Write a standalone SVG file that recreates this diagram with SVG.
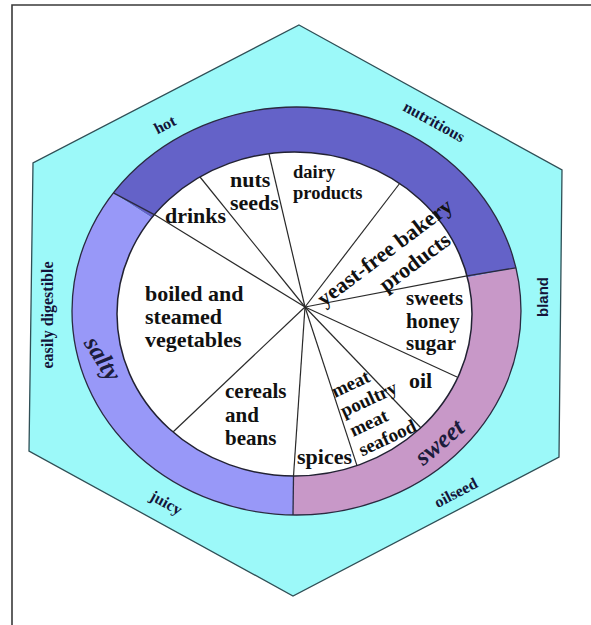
<svg xmlns="http://www.w3.org/2000/svg" width="591" height="625" viewBox="0 0 591 625">
  <style>
    .frame { fill: none; stroke: #3a3a3a; stroke-width: 1.6; }
    .hex { fill: #9cf9f9; stroke: #2f4f56; stroke-width: 1.3; }
    .edge { fill: none; stroke: #2a2a40; stroke-width: 1.3; }
    .spoke { stroke: #2a2a2a; stroke-width: 1.2; fill: none; }
    .core { fill: #ffffff; stroke: #222233; stroke-width: 1.5; }
    .in { font-family: "Liberation Serif", "Times New Roman", serif; font-weight: bold; font-size: 22px; fill: #111111; }
    .stack { font-size: 21px; }
    .lab { font-family: "Liberation Serif", "Times New Roman", serif; font-weight: bold; font-size: 16px; fill: #14143a; text-anchor: middle; }
    .sans { font-family: "Liberation Sans", Arial, sans-serif; font-weight: bold; font-size: 15px; fill: #14143a; text-anchor: middle; }
    .band { font-family: "Liberation Serif", "Times New Roman", serif; font-style: italic; font-weight: bold; font-size: 25px; fill: #1c1c3c; text-anchor: middle; }
  </style>

  <!-- page frame (top and left rules) -->
  <polyline class="frame" points="591,5 12,5 12,625"/>

  <!-- outer hexagon of qualities -->
  <g id="hexagon">
    <polygon class="hex" points="299,25 562,170 559,457 293,596 29,451 33,163"/>
    <text class="lab" transform="translate(165,125) rotate(-27.4)" y="5">hot</text>
    <text class="lab" x="308.5" y="131.5">sour</text>
    <text class="lab" transform="translate(434,122) rotate(28.9)" y="5">nutritious</text>
    <text class="lab" transform="translate(48,315) rotate(-90)" y="5">easily digestible</text>
    <text class="sans" transform="translate(543,297) rotate(-90)" y="5">bland</text>
    <text class="lab" transform="translate(166,503) rotate(28.8)" y="5">juicy</text>
    <text class="lab" transform="translate(456,493) rotate(-27.6)" y="5">oilseed</text>
  </g>

  <!-- taste ring -->
  <g id="ring">
    <path id="ring-sour" fill="#6462c8" d="M296.5,311 L113.4,192.9 A224.5,204 0 0 1 515.9,267.8 Z"/>
    <path id="ring-sweet" fill="#c898c8" d="M296.5,311 L515.9,267.8 A224.5,204 0 0 1 293,515 Z"/>
    <path id="ring-salty" fill="#9898f8" d="M296.5,311 L293,515 A224.5,204 0 0 1 113.4,192.9 Z"/>
    <ellipse class="edge" cx="296.5" cy="311" rx="224.5" ry="204"/>
    <line class="edge" x1="154.3" y1="214.6" x2="113.4" y2="192.9"/>
    <line class="edge" x1="467" y1="275.8" x2="515.9" y2="267.8"/>
    <line class="edge" x1="293.5" y1="476" x2="293" y2="515"/>
    <text class="band" transform="translate(101.7,359.3) rotate(58)" y="7">salty</text>
    <text class="band" transform="translate(440,443) rotate(-40)" y="7">sweet</text>
  </g>

  <!-- food disc -->
  <ellipse id="disc" class="core" cx="294.5" cy="314" rx="177.5" ry="162"/>

  <!-- dividing spokes -->
  <g id="connectors">
    <line class="spoke" x1="305" y1="307" x2="154.3" y2="214.6"/>
    <line class="spoke" x1="305" y1="307" x2="200" y2="177"/>
    <line class="spoke" x1="305" y1="307" x2="269" y2="154"/>
    <line class="spoke" x1="305" y1="307" x2="400" y2="183"/>
    <line class="spoke" x1="305" y1="307" x2="467" y2="275.8"/>
    <line class="spoke" x1="305" y1="307" x2="457" y2="377"/>
    <line class="spoke" x1="305" y1="307" x2="421" y2="428"/>
    <line class="spoke" x1="305" y1="307" x2="356.9" y2="465.4"/>
    <line class="spoke" x1="305" y1="307" x2="293.5" y2="476"/>
    <line class="spoke" x1="305" y1="307" x2="173" y2="432"/>
  </g>

  <!-- food groups -->
  <g id="drinks"><text class="in" x="165" y="223">drinks</text></g>
  <g id="nuts-seeds">
    <text class="in" x="230" y="187">nuts</text>
    <text class="in" x="230" y="210">seeds</text>
  </g>
  <g id="dairy">
    <text class="in" x="293" y="178" style="font-size:18.5px">dairy</text>
    <text class="in" x="293" y="199" style="font-size:18.5px">products</text>
  </g>
  <g id="bakery" transform="translate(386,254) rotate(-37)">
    <text class="in" x="0" y="5" text-anchor="middle">yeast-free bakery</text>
    <text class="in" x="18" y="31" text-anchor="middle">products</text>
  </g>
  <g id="sweets">
    <text class="in stack" x="406" y="305">sweets</text>
    <text class="in stack" x="406" y="327.5">honey</text>
    <text class="in stack" x="406" y="350">sugar</text>
  </g>
  <g id="oil"><text class="in" x="409" y="388">oil</text></g>
  <g id="meat" transform="translate(335,398) rotate(-25)">
    <text class="in" x="0" y="0" style="font-size:19px">meat</text>
    <text class="in" x="0" y="21.5" style="font-size:19px">poultry</text>
    <text class="in" x="0" y="43" style="font-size:19px">meat</text>
    <text class="in" x="0" y="64.5" style="font-size:19px">seafood</text>
  </g>
  <g id="spices"><text class="in" x="297" y="464">spices</text></g>
  <g id="cereals">
    <text class="in stack" x="225" y="398">cereals</text>
    <text class="in stack" x="225" y="421.5">and</text>
    <text class="in stack" x="225" y="444.5">beans</text>
  </g>
  <g id="vegetables">
    <text class="in" x="145" y="301">boiled and</text>
    <text class="in" x="145" y="324">steamed</text>
    <text class="in" x="145" y="347">vegetables</text>
  </g>
</svg>
